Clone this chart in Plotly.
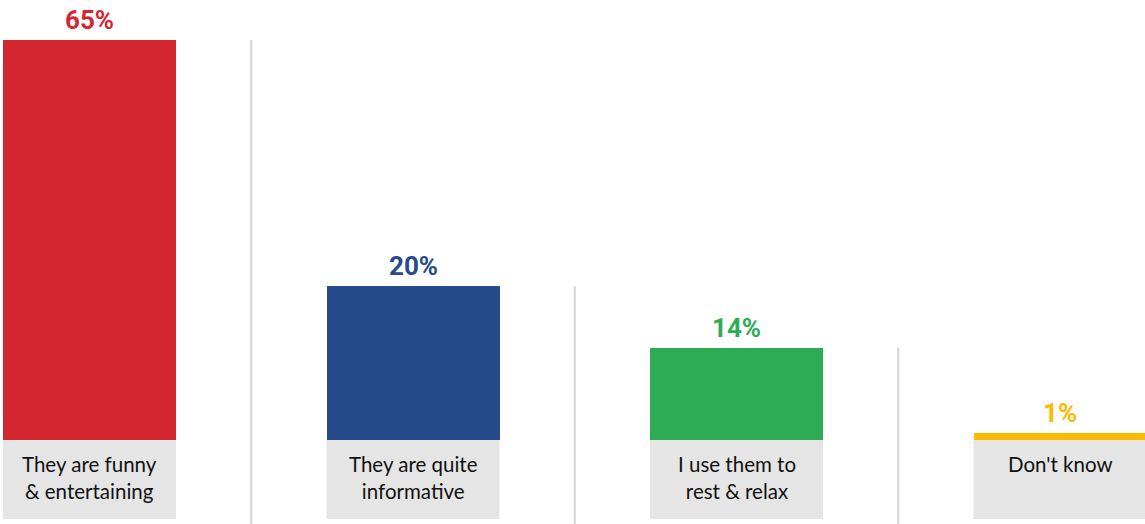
import plotly.graph_objects as go

categories = ["They are funny<br>& entertaining", "They are quite<br>informative",
              "I use them to<br>rest & relax", "Don't know"]
values = [65, 25, 15, 1.1]
value_labels = ["65%", "20%", "14%", "1%"]
colors = ["#d4262f", "#254b8a", "#2eac55", "#fdbb00"]

W, H = 1145, 524
px_per_cat = 323.5
px_per_unit = 400 / 65.0
x0 = -89.5 / px_per_cat
x1 = x0 + W / px_per_cat
y0 = -84 / px_per_unit
y1 = y0 + H / px_per_unit
bar_w = 173 / px_per_cat
box_bottom = -79 / px_per_unit
xs = list(range(len(categories)))

fig = go.Figure()
fig.add_trace(go.Bar(x=xs, y=values, width=bar_w, marker=dict(color=colors, line=dict(width=0)),
                     hoverinfo="skip"))

shapes = []
annotations = []
for i, x in enumerate(xs):
    shapes.append(dict(type="rect", xref="x", yref="y", x0=x - bar_w / 2, x1=x + bar_w / 2,
                       y0=box_bottom, y1=0, fillcolor="#e5e5e5", line=dict(width=0), layer="below"))
    annotations.append(dict(x=x, y=-12 / px_per_unit, xref="x", yref="y", text=categories[i],
                            showarrow=False, yanchor="top", xanchor="center", align="center",
                            borderpad=0, borderwidth=0,
                            font=dict(family="Lato", size=20.5, color="#111111")))
    annotations.append(dict(x=x, y=values[i], xref="x", yref="y", text="<b>" + value_labels[i] + "</b>",
                            showarrow=False, yanchor="bottom", xanchor="center", yshift=5,
                            borderpad=0, borderwidth=0,
                            font=dict(family="Roboto", size=26, color=colors[i])))
    if i < len(xs) - 1:
        shapes.append(dict(type="line", xref="x", yref="y", x0=x + 0.5, x1=x + 0.5,
                           y0=values[i], y1=y0, line=dict(color="#d3d3d3", width=2)))

fig.update_layout(
    width=W, height=H, margin=dict(l=0, r=0, t=0, b=0),
    paper_bgcolor="white", plot_bgcolor="white", showlegend=False,
    xaxis=dict(range=[x0, x1], visible=False, fixedrange=True),
    yaxis=dict(range=[y0, y1], visible=False, fixedrange=True),
    shapes=shapes, annotations=annotations, bargap=0,
)
fig.write_html("out.html", config={"displayModeBar": False})
